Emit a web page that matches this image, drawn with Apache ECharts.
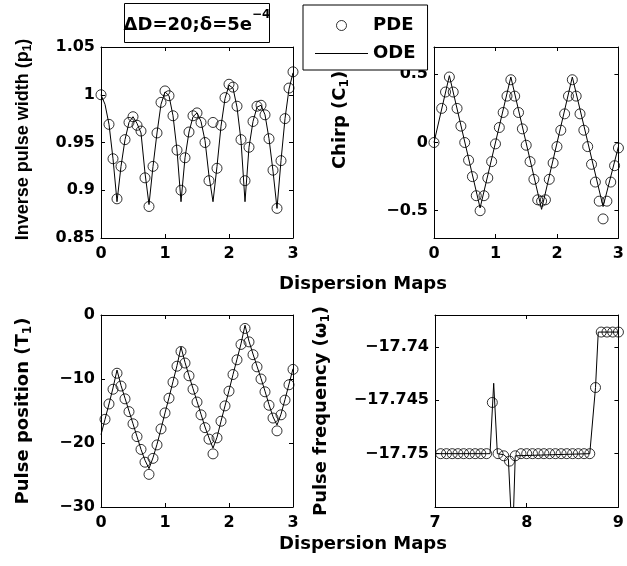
<!DOCTYPE html>
<html><head><meta charset="utf-8">
<script src="https://cdn.jsdelivr.net/npm/echarts@6/dist/echarts.min.js"></script>
<style>html,body{margin:0;padding:0;background:#fff}#c{width:627px;height:566px}</style>
</head><body><div id="c"></div>
<script>
// ---- data ----
const mapsX = [0,0.0625,0.125,0.1875,0.25,0.3125,0.375,0.4375,0.5,0.5625,0.625,0.6875,0.75,0.8125,0.875,0.9375,1,1.0625,1.125,1.1875,1.25,1.3125,1.375,1.4375,1.5,1.5625,1.625,1.6875,1.75,1.8125,1.875,1.9375,2,2.0625,2.125,2.1875,2.25,2.3125,2.375,2.4375,2.5,2.5625,2.625,2.6875,2.75,2.8125,2.875,2.9375,3];

const p1PDE = [1.000,null,0.969,0.933,0.891,0.925,0.953,0.971,0.977,0.968,0.962,0.913,0.883,0.925,0.960,0.992,1.004,0.999,0.978,0.942,0.900,0.934,0.961,0.978,0.981,0.971,0.950,0.910,0.971,0.923,0.968,0.997,1.011,1.008,0.988,0.953,0.910,0.945,0.972,0.988,0.989,0.979,0.954,0.921,0.881,0.931,0.975,1.007,1.024];
const p1ODE = [1.000,0.990,0.969,0.933,0.888,0.925,0.953,0.971,0.977,0.970,0.960,0.918,0.885,0.925,0.960,0.990,1.003,0.999,0.978,0.942,0.888,0.934,0.961,0.977,0.981,0.972,0.952,0.915,0.888,0.925,0.967,0.996,1.010,1.007,0.987,0.952,0.888,0.945,0.972,0.987,0.989,0.979,0.954,0.920,0.881,0.931,0.975,1.006,1.023];

const c1PDE = [0,null,0.25,0.37,0.48,0.37,0.25,0.12,0.0,-0.13,-0.25,-0.39,-0.50,-0.39,-0.26,-0.14,-0.01,0.11,0.22,0.34,0.46,0.34,0.22,0.10,-0.02,-0.14,-0.27,-0.42,-0.43,-0.42,-0.27,-0.15,-0.03,0.09,0.21,0.34,0.46,0.34,0.21,0.09,-0.03,-0.16,-0.29,-0.43,-0.56,-0.43,-0.29,-0.17,-0.04];
const c1ODEX = [0,0.25,0.75,1.25,1.75,2.25,2.75,3];
const c1ODE = [0,0.49,-0.48,0.48,-0.49,0.48,-0.47,-0.03];

const t1PDE = [null,-16.3,-13.9,-11.6,-9.1,-11.1,-13.1,-15.1,-17.0,-19.0,-21.0,-23.0,-24.9,-22.4,-20.3,-17.8,-15.3,-13.0,-10.5,-8.0,-5.7,-7.5,-9.5,-11.6,-13.6,-15.6,-17.6,-19.4,-21.7,-19.2,-16.6,-14.2,-11.9,-9.3,-7.0,-4.6,-2.1,-4.2,-6.2,-8.1,-10.0,-12.0,-14.1,-16.1,-18.1,-15.6,-13.3,-10.9,-8.5];
const t1ODE = [-18.7,-16.3,-13.9,-11.4,-8.6,-11.0,-13.0,-15.0,-17.0,-19.0,-21.0,-22.7,-24.0,-22.3,-20.2,-17.8,-15.3,-12.9,-10.4,-7.9,-5.0,-7.4,-9.5,-11.5,-13.5,-15.5,-17.5,-19.2,-20.8,-19.1,-16.6,-14.2,-11.8,-9.3,-6.9,-4.5,-1.6,-4.1,-6.1,-8.0,-9.9,-11.9,-14.0,-15.9,-17.2,-15.5,-13.2,-10.8,-8.4];

const w1X = [7.0625,7.125,7.1875,7.25,7.3125,7.375,7.4375,7.5,7.5625,7.625,7.6875,7.75,7.8125,7.875,7.9375,8,8.0625,8.125,8.1875,8.25,8.3125,8.375,8.4375,8.5,8.5625,8.625,8.6875,8.75,8.8125,8.875,8.9375,9];
const w1PDE = [-17.75,-17.75,-17.75,-17.75,-17.75,-17.75,-17.75,-17.75,-17.75,-17.7452,-17.75,-17.7502,-17.7507,-17.7502,-17.75,-17.75,-17.75,-17.75,-17.75,-17.75,-17.75,-17.75,-17.75,-17.75,-17.75,-17.75,-17.75,-17.7438,-17.7386,-17.7386,-17.7386,-17.7386];
const w1ODEX = [7,7.5625,7.60,7.64,7.68,7.75,7.80,7.845,7.875,8.6875,8.75,8.78,9];
const w1ODE = [-17.75,-17.75,-17.75,-17.7434,-17.75,-17.7501,-17.7505,-17.7585,-17.7502,-17.75,-17.7438,-17.7386,-17.7386];

// tick values
const mapsTicks = [0,1,2,3];
const w1XTicks = [7,8,9];
const p1Ticks = [0.85,0.9,0.95,1,1.05];
const c1Ticks = [-0.5,0,0.5];
const t1Ticks = [-30,-20,-10,0];
const w1Ticks = [-17.75,-17.745,-17.74];

// ---- chart ----
const FONT = 'DejaVu Sans';
const fmt = v => String(parseFloat(Number(v).toFixed(4))).replace('-', '\u2212');
function pairs(xs, ys){ return xs.map((x,i)=>[x, ys[i]]).filter(p=>p[1]!==null); }
function axis(gi, min, max, ticks, position, show, margin){
  return {type:'value', gridIndex:gi, min:min, max:max, position:position,
    axisLine:{show:true, onZero:false, lineStyle:{color:'#000', width:1}},
    axisTick:{show:true, inside:true, length:4, customValues:ticks, lineStyle:{color:'#000', width:1}},
    axisLabel:{show:show, customValues:ticks, margin:margin, color:'#000', fontFamily:FONT, fontWeight:'bold', fontSize:16, formatter:fmt},
    splitLine:{show:false}};
}
function yName(ax, main, sub, gap, pad, fam){
  const f = fam || FONT;
  ax.name = '{a|' + main + '}{s|' + sub + '}{a|)}';
  ax.nameLocation = 'middle';
  ax.nameGap = gap;
  ax.nameTextStyle = {color:'#000', padding:pad || 0, rich:{
    a:{fontSize:18, fontWeight:'bold', fontFamily:f, color:'#000'},
    s:{fontSize:12, fontWeight:'bold', fontFamily:f, color:'#000', padding:[10,0,0,0]}}};
  return ax;
}
const grids = [
  {left:101, top:47, width:192, height:191},
  {left:434, top:47, width:193, height:191},
  {left:101, top:315, width:192, height:192},
  {left:435, top:315, width:192, height:192}
];
const xAxes = [
  axis(0,0,3,mapsTicks,'bottom',true,8),
  axis(1,0,3,mapsTicks,'bottom',true,8),
  axis(2,0,3,mapsTicks,'bottom',true,8),
  axis(3,7,9,w1XTicks,'bottom',true,8),
  axis(0,0,3,mapsTicks,'top',false,8),
  axis(1,0,3,mapsTicks,'top',false,8),
  axis(2,0,3,mapsTicks,'top',false,8),
  axis(3,7,9,w1XTicks,'top',false,8)
];
const yAxes = [
  yName(axis(0,0.85,1.05,p1Ticks,'left',true,6),'Inverse pulse width (p','1',67,[0,0,0,6],'Liberation Sans'),
  yName(axis(1,-0.7,0.7,c1Ticks,'left',true,6),'Chirp (C','1',83,[0,0,0,45]),
  yName(axis(2,-30,0,t1Ticks,'left',true,6),'Pulse position (T','1',67),
  yName(axis(3,-17.755,-17.737,w1Ticks,'left',true,6),'Pulse frequency (\u03c9','1',103),
  axis(0,0.85,1.05,p1Ticks,'right',false,6),
  axis(1,-0.7,0.7,c1Ticks,'right',false,6),
  axis(2,-30,0,t1Ticks,'right',false,6),
  axis(3,-17.755,-17.737,w1Ticks,'right',false,6)
];
function pde(i, data){ return {type:'scatter', name:'PDE', xAxisIndex:i, yAxisIndex:i, data:data, symbol:'circle', symbolSize:10,
  itemStyle:{color:'rgba(0,0,0,0)', borderColor:'#000', borderWidth:1}, z:2, silent:true}; }
function ode(i, data){ return {type:'line', name:'ODE', xAxisIndex:i, yAxisIndex:i, data:data, symbol:'none',
  lineStyle:{color:'#000', width:1}, itemStyle:{color:'#000'}, z:3, silent:true, clip:true}; }

const series = [
  pde(0, pairs(mapsX, p1PDE)), ode(0, pairs(mapsX, p1ODE)),
  pde(1, pairs(mapsX, c1PDE)), ode(1, pairs(c1ODEX, c1ODE)),
  pde(2, pairs(mapsX, t1PDE)), ode(2, pairs(mapsX, t1ODE)),
  pde(3, pairs(w1X, w1PDE)), ode(3, pairs(w1ODEX, w1ODE))
];

const txt = {fontSize:18, fontWeight:'bold', fontFamily:FONT, fill:'#000', align:'center', verticalAlign:'middle'};
const chart = echarts.init(document.getElementById('c'), null, {renderer:'canvas'});
chart.setOption({
  animation:false,
  backgroundColor:'#fff',
  grid:grids, xAxis:xAxes, yAxis:yAxes, series:series,
  legend:{left:303, top:5, orient:'vertical', itemWidth:53, itemHeight:10, itemGap:8,
    padding:[10.5,12,6.5,12], borderColor:'#000', borderWidth:1, backgroundColor:'#fff', selectedMode:false,
    textStyle:{fontFamily:FONT, fontWeight:'bold', fontSize:18, color:'#000', lineHeight:20},
    data:[
      {name:'PDE', icon:'circle', itemStyle:{color:'rgba(0,0,0,0)', borderColor:'#000', borderWidth:1}},
      {name:'ODE', icon:'path://M0,0L53,0L53,1L0,1Z', itemStyle:{color:'#000', borderWidth:0}}
    ]},
  graphic:[
    {type:'rect', shape:{x:124.5, y:3.5, width:145, height:39}, style:{fill:'#fff', stroke:'#000', lineWidth:1}, z:10},
    {type:'text', x:197, y:25, z:11, style:{text:'{a|\u0394D=20;\u03b4=5e}{s|\u22124}', align:'center', verticalAlign:'middle',
      rich:{a:{fontSize:18, fontWeight:'bold', fontFamily:FONT, fill:'#000'}, s:{fontSize:12, fontWeight:'bold', fontFamily:FONT, fill:'#000', padding:[0,0,20,0]}}}},
    {type:'text', x:363, y:284, z:11, style:Object.assign({text:'Dispersion Maps'}, txt)},
    {type:'text', x:363, y:544, z:11, style:Object.assign({text:'Dispersion Maps'}, txt)}
  ]
});
</script></body></html>
